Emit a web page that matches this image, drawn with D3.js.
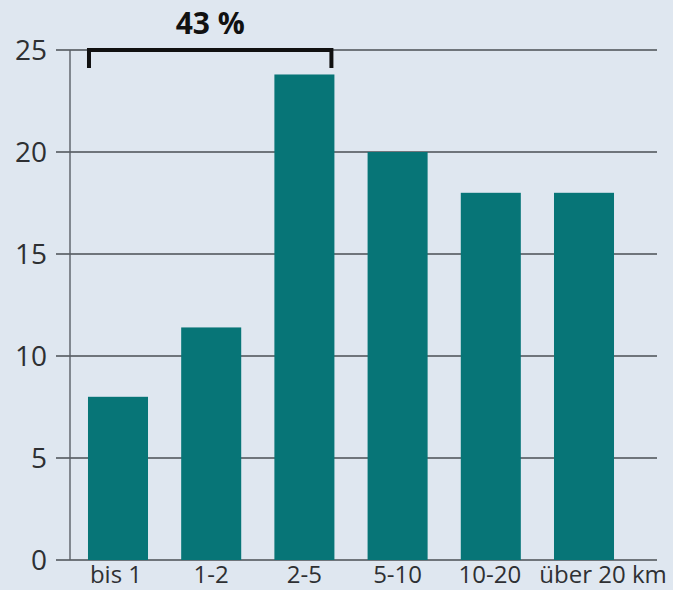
<!DOCTYPE html>
<html>
<head>
<meta charset="utf-8">
<script src="https://cdn.jsdelivr.net/npm/d3@7"></script>
<style>
  body { margin: 0; background: #dfe7f0; }
  svg { display: block; font-family: "Open Sans", sans-serif; }
</style>
</head>
<body>
<svg></svg>
<script>
var svg_width = 673
var svg_height = 590

var categories = ["bis 1", "1-2", "2-5", "5-10", "10-20", "über 20 km"]
var values = [8, 11.4, 23.8, 20, 18, 18]
var yTicks = [0, 5, 10, 15, 20, 25]
var bracketLabel = "43 %"
var bracketRange = ["bis 1", "2-5"]

var svg = d3.select("svg")
    .attr("width", svg_width)
    .attr("height", svg_height)

//SCALES
var xScale = d3.scaleBand()
               .domain(categories)
               .range([70, 632])
               .paddingInner(0.356)
               .paddingOuter(0.193)

var yScale = d3.scaleLinear()
               .domain([0, 25])
               .range([560, 50])

// gridlines (behind bars)
svg.append("g")
    .selectAll("line")
    .data(yTicks)
    .enter()
    .append("line")
      .attr("x1", 56)
      .attr("x2", 657)
      .attr("y1", function(d) { return yScale(d) })
      .attr("y2", function(d) { return yScale(d) })
      .attr("stroke", "#4a4f55")
      .attr("stroke-width", 1.4)

// y axis line
svg.append("line")
    .attr("x1", 70).attr("x2", 70)
    .attr("y1", yScale(25)).attr("y2", yScale(0))
    .attr("stroke", "#5a5f66")
    .attr("stroke-width", 1.4)

// tick labels
var yAxis = d3.axisLeft(yScale)
              .tickValues(yTicks)
              .tickSize(0)
              .tickPadding(0)
svg.append("g")
    .attr("transform", "translate(47, 0)")
    .call(yAxis)
    .call(function(g) {
        g.select(".domain").remove()
        g.selectAll("text")
          .attr("font-family", "Open Sans, sans-serif")
          .attr("font-size", 28)
          .attr("fill", "#2e3033")
          .attr("dy", "0.35em")
    })

// bars
svg.append("g")
    .selectAll("rect")
    .data(values)
    .enter()
    .append("rect")
      .attr("x", function(d, i) { return xScale(categories[i]) })
      .attr("y", function(d) { return yScale(d) })
      .attr("width", xScale.bandwidth())
      .attr("height", function(d) { return yScale(0) - yScale(d) })
      .attr("fill", "#077577")

// x labels
var labelShift = [-2, 0, 0, 0, -1, 19]
svg.append("g")
    .selectAll("text")
    .data(categories)
    .enter()
    .append("text")
      .attr("x", function(d, i) { return xScale(d) + xScale.bandwidth() / 2 + labelShift[i] })
      .attr("y", 583)
      .attr("text-anchor", "middle")
      .attr("font-size", 24)
      .attr("fill", "#2e3033")
      .text(function(d) { return d })

// bracket
var bx1 = xScale(bracketRange[0]) + 1
var bx2 = xScale(bracketRange[1]) + xScale.bandwidth() - 3
var by = yScale(25)
svg.append("path")
    .attr("d", "M" + bx1 + "," + (by + 18) + "V" + by + "H" + bx2 + "V" + (by + 18))
    .attr("fill", "none")
    .attr("stroke", "#111")
    .attr("stroke-width", 4)

svg.append("text")
    .attr("x", (bx1 + bx2) / 2)
    .attr("y", 34)
    .attr("text-anchor", "middle")
    .attr("font-size", 30)
    .attr("font-weight", "bold")
    .attr("fill", "#111")
    .text(bracketLabel)
</script>
</body>
</html>
